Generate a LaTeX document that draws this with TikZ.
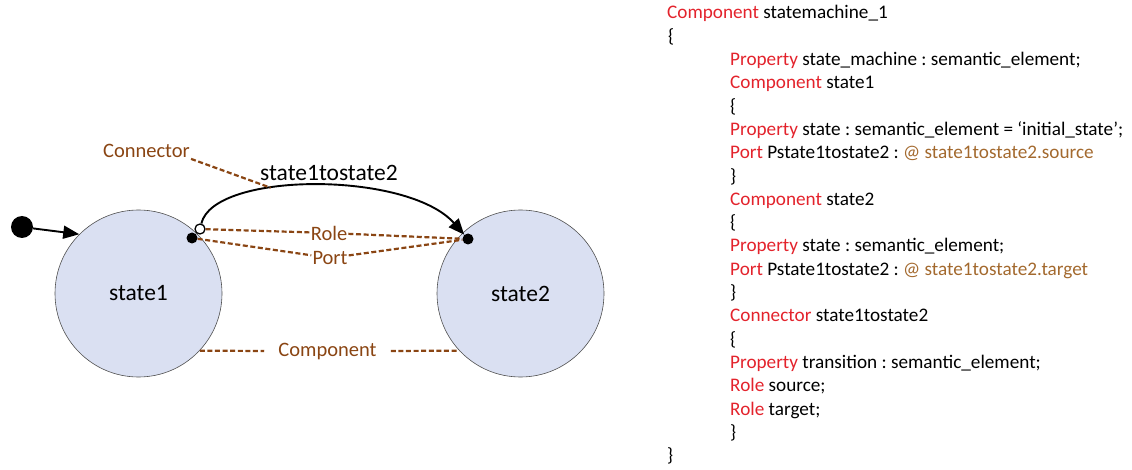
\documentclass[tikz,border=0pt]{standalone}
\usepackage{fontspec}
\setmainfont{Carlito}
\frenchspacing
\usetikzlibrary{arrows.meta}
\definecolor{smred}{HTML}{E3232C}
\definecolor{smref}{HTML}{A3692E}
\definecolor{smbrown}{HTML}{8A4513}
\definecolor{smfill}{HTML}{DAE0F2}
\definecolor{smedge}{HTML}{505050}
\newcommand{\kwd}[1]{\textcolor{smred}{#1}}
\newcommand{\refd}[1]{\textcolor{smref}{#1}}

\begin{document}
\begin{tikzpicture}[
  x=1pt, y=1pt,
  state/.style={circle, draw=smedge, fill=smfill, line width=0.6pt, minimum size=167pt, inner sep=0pt, font=\fontsize{23.5}{26}\selectfont},
  dot/.style={circle, fill=black, inner sep=0pt, minimum size=11pt},
  hole/.style={circle, draw=black, fill=white, line width=1.3pt, inner sep=0pt, minimum size=10pt},
  lbl/.style={text=smbrown, font=\fontsize{20.5}{24}\selectfont, inner sep=1pt},
  lead/.style={draw=smbrown, line width=2.2pt, dash pattern=on 5pt off 2.6pt},
  flow/.style={draw=black, line width=1.9pt, -{Triangle[length=16pt,width=13pt]}},
  codeline/.style={anchor=base west, inner sep=0pt, font=\fontsize{19.2}{23}\selectfont},
]
\useasboundingbox (0,0) rectangle (1132,469);

% ---- states ----
\node[state] (s1) at (138.5,175.5) {state1};
\node[state] (s2) at (520.5,175.5) {state2};
\node[dot, minimum size=22pt] (init) at (22,242) {};
\draw[flow] (init) -- (s1.135);

% ---- ports and connector ----
\node[dot]  (pS) at (192,231) {};
\node[hole] (pA) at (200,240) {};
\node[dot]  (pT) at (468,230) {};
\draw[flow] (pA) .. controls (214,298) and (408,298) .. (pT) coordinate[pos=0.36] (arcpt);
\node[font=\fontsize{23.5}{26}\selectfont] (trans) at (329,296) {state1tostate2};

% ---- annotations ----
\node[lbl] (con)  at (146.5,318) {Connector};
\node[lbl] (role) at (329,236) {Role};
\node[lbl] (port) at (330,211) {Port};
\node[lbl, inner xsep=14pt] (comp) at (327.5,118) {Component};

\draw[lead] (con.south east) -- (arcpt);
\draw[lead] (pA) -- (role);
\draw[lead] (role) -- (pT);
\draw[lead] (pS) -- (port);
\draw[lead] (port) -- (pT);
\draw[lead] (s1.-43.5) -- (comp.west);
\draw[lead] (comp.east) -- (s2.223.5);

% ---- textual description ----
\foreach \n/\x/\t in {
  1/667/{\kwd{Component} statemachine\_1},
  2/668/{\{},
  3/730/{\kwd{Property} state\_machine : semantic\_element;},
  4/730/{\kwd{Component} state1},
  5/730/{\{},
  6/730/{\kwd{Property} state : semantic\_element = ‘initial\_state’;},
  7/730/{\kwd{Port} Pstate1tostate2 : \refd{@ state1tostate2.source}},
  8/730/{\}},
  9/730/{\kwd{Component} state2},
  10/730/{\{},
  11/730/{\kwd{Property} state : semantic\_element;},
  12/730/{\kwd{Port} Pstate1tostate2 : \refd{@ state1tostate2.target}},
  13/730/{\}},
  14/730/{\kwd{Connector} state1tostate2},
  15/730/{\{},
  16/730/{\kwd{Property} transition : semantic\_element;},
  17/730/{\kwd{Role} source;},
  18/730/{\kwd{Role} target;},
  19/730/{\}},
  20/667/{\}}}
  \node[codeline] (code\n) at (\x,{450-23.3*(\n-1)}) {\t};

\end{tikzpicture}
\end{document}
